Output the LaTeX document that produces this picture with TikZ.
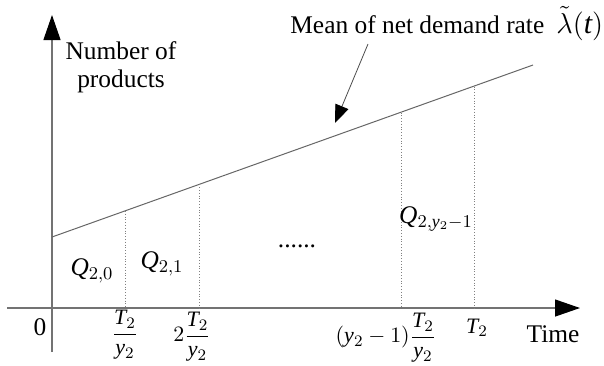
\documentclass[tikz,border=0pt]{standalone}
\usepackage{fontspec}
\setmainfont{Liberation Serif}
\usetikzlibrary{arrows.meta}
\begin{document}
\begin{tikzpicture}[x=0.5pt,y=-0.5pt,
  axis/.style={draw=black!55,line width=0.6pt,-{Triangle[length=12.5pt,width=8.5pt,fill=black,color=black]}},
  rate/.style={draw=black!60,line width=0.5pt},
  split/.style={draw=black!50,line width=0.4pt,densely dotted},
  pointer/.style={draw=black!70,line width=0.4pt,-{Triangle[length=9pt,width=7pt,fill=black,color=black]}},
  lbl/.style={inner sep=0pt,font=\fontsize{12.7}{15}\selectfont},
  tick/.style={inner sep=0pt,font=\fontsize{11}{13}\selectfont}]
\useasboundingbox (0,0) rectangle (604,365);
% axes
\coordinate (ybot) at (52,352);
\coordinate (ytop) at (52,15);
\coordinate (xleft) at (7,308);
\coordinate (xright) at (580,308);
\draw[axis] (ybot) -- (ytop);
\draw[axis] (xleft) -- (xright);
% rate line
\coordinate (l0) at (52,237);
\coordinate (l1) at (533,65);
\draw[rate] (l0) -- (l1);
% splits
\coordinate (a1) at (125,210.9); \coordinate (b1) at (125,308);
\coordinate (a2) at (199,184.4); \coordinate (b2) at (199,308);
\coordinate (a3) at (401,112.6); \coordinate (b3) at (401,308);
\coordinate (a4) at (474,86.5); \coordinate (b4) at (474,308);
\draw[split] (a1) -- (b1);
\draw[split] (a2) -- (b2);
\draw[split] (a3) -- (b3);
\draw[split] (a4) -- (b4);
% labels
\node[lbl,anchor=north,align=center] (ylab) at (121,41) {Number of\\[-1pt]products};
\node[lbl,anchor=base west] (mean) at (290,33) {Mean of net demand rate};
\node[inner sep=0pt,font=\fontsize{15}{17}\selectfont,anchor=base west] (lam) at (556,33) {$\tilde{\lambda}(\mathit{t})$};
\coordinate (ptail) at (368,44);
\coordinate (phead) at (335,123);
\draw[pointer] (ptail) -- (phead);
\node[lbl] (q0) at (92,271) {$\mathit{Q}_{2,0}$};
\node[lbl] (q1) at (162,264) {$\mathit{Q}_{2,1}$};
\node[lbl] (dots) at (297,246) {......};
\node[lbl] (qn) at (436,219) {$\mathit{Q}_{2,\mathit{y}_2-1}$};
\node[lbl] (zero) at (40,327) {0};
\node[tick] (t1) at (125,335) {$\displaystyle\frac{\mathit{T}_2}{\mathit{y}_2}$};
\node[tick] (t2) at (192,337) {$\displaystyle 2\frac{\mathit{T}_2}{\mathit{y}_2}$};
\node[tick] (t3) at (386,338) {$\displaystyle (\mathit{y}_2-1)\frac{\mathit{T}_2}{\mathit{y}_2}$};
\node[tick] (t4) at (477,328) {$\mathit{T}_2$};
\node[lbl,anchor=base] (time) at (553,342) {Time};
\end{tikzpicture}
\end{document}
